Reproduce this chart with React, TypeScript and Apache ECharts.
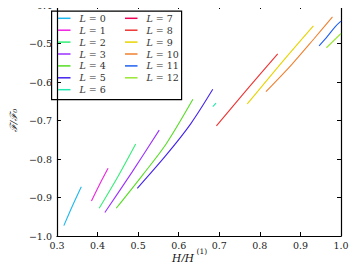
import React, { useEffect, useRef } from "react";
import * as echarts from "echarts";

const LABELS = ["L = 0", "L = 1", "L = 2", "L = 3", "L = 4", "L = 5", "L = 6", "L = 7", "L = 8", "L = 9", "L = 10", "L = 11", "L = 12"];
const COLORS = ["#1cb8f0", "#f020e0", "#33ee77", "#9b30ff", "#55dd22", "#4422ee", "#22e8b0", "#ee0055", "#ee3333", "#e8d400", "#f08030", "#2060f0", "#99e633"];

const L0 = [[0.317, -0.973], [0.338, -0.922], [0.36, -0.872]];
const L1 = [[0.385, -0.909], [0.405, -0.866], [0.426, -0.824]];
const L2 = [[0.404, -0.928], [0.45, -0.846], [0.494, -0.761]];
const L3 = [[0.418, -0.939], [0.485, -0.834], [0.552, -0.725]];
const L4 = [[0.446, -0.928], [0.51, -0.843], [0.569, -0.761], [0.635, -0.645]];
const L5 = [[0.498, -0.876], [0.569, -0.79], [0.63, -0.708], [0.684, -0.619]];
const L6 = [[0.684, -0.664], [0.692, -0.655]];
const L7: number[][] = [];
const L8 = [[0.693, -0.714], [0.767, -0.621], [0.844, -0.527]];
const L9 = [[0.769, -0.657], [0.859, -0.543], [0.932, -0.454]];
const L10 = [[0.815, -0.625], [0.879, -0.554], [0.934, -0.487], [0.979, -0.431]];
const L11 = [[0.946, -0.506], [0.966, -0.482], [0.986, -0.456], [1.0, -0.442]];
const L12 = [[0.964, -0.511], [1.0, -0.474]];
const SERIES_DATA = [L0, L1, L2, L3, L4, L5, L6, L7, L8, L9, L10, L11, L12];

const X_MIN = 0.3, X_MAX = 1.0, Y_MIN = -1.0, Y_MAX = -0.4, STEP = 0.1;

const FONT = "'DejaVu Serif', 'Liberation Serif', serif";
const fmt = (v: number) => v.toFixed(1).replace("-", "\u2212");

export default function App() {
  const ref = useRef<HTMLDivElement>(null);
  useEffect(() => {
    if (!ref.current) return;
    const chart = echarts.init(ref.current, undefined, { renderer: "svg" });
    const tick = { show: true, inside: true, length: 4, lineStyle: { color: "#000", width: 1 } };
    const line = { show: true, onZero: false, lineStyle: { color: "#000", width: 1.2 } };
    const legendCommon = {
      orient: "vertical" as const,
      icon: "rect",
      itemWidth: 12.5,
      itemHeight: 1.5,
      itemGap: 0.9,
      padding: 0,
      textStyle: {
        fontFamily: FONT,
        fontSize: 9.5,
        color: "#333",
        lineHeight: 11,
        padding: [0, 0, 0, 4],
        rich: { i: { fontStyle: "italic", fontFamily: FONT, fontSize: 9.5, color: "#333" } },
      },
      formatter: (name: string) => `{i|L} = ${name.split("= ")[1]}`,
    };
    const t = (text: string, x: number, y: number, font: string) => ({
      type: "text", x, y,
      style: { text, font, fill: "#111", verticalAlign: "middle", align: "left" },
    });
    chart.setOption({
      animation: false,
      backgroundColor: "#fff",
      grid: { left: 47, right: 19, top: 5, bottom: 34 },
      xAxis: [
        {
          type: "value", min: X_MIN, max: X_MAX, interval: STEP, position: "bottom",
          axisLine: line, axisTick: tick, splitLine: { show: false },
          axisLabel: { formatter: fmt, fontFamily: FONT, fontSize: 9.5, color: "#222", margin: 4 },
        },
        {
          type: "value", min: X_MIN, max: X_MAX, interval: STEP, position: "top",
          axisLine: line, axisTick: tick, splitLine: { show: false }, axisLabel: { show: false },
        },
      ],
      yAxis: [
        {
          type: "value", min: Y_MIN, max: Y_MAX, interval: STEP, position: "left",
          axisLine: line, axisTick: tick, splitLine: { show: false },
          axisLabel: { formatter: fmt, fontFamily: FONT, fontSize: 9.5, color: "#222", margin: 5 },
          name: "\u2131/\u2131\u2080", nameLocation: "middle", nameGap: 35, nameRotate: 90,
          nameTextStyle: { fontFamily: FONT, fontSize: 10, color: "#222", fontStyle: "italic" },
        },
        {
          type: "value", min: Y_MIN, max: Y_MAX, interval: STEP, position: "right",
          axisLine: line, axisTick: tick, splitLine: { show: false }, axisLabel: { show: false },
        },
      ],
      legend: [
        { ...legendCommon, left: 58, top: 12.8, data: LABELS.slice(0, 7) },
        { ...legendCommon, left: 125, top: 12.8, data: LABELS.slice(7) },
      ],
      graphic: [
        {
          type: "rect", left: 51, top: 10.5, z: -1,
          shape: { width: 130, height: 88.5 },
          style: { fill: "#fff", stroke: "#000", lineWidth: 1.2 },
        },
        {
          type: "group", x: 0, y: 0,
          children: [
            t("H/H", 172, 257.5, `italic 10.5px ${FONT}`),
            t("(1)", 196.5, 251, `7.5px ${FONT}`),
            t("c", 197, 263, `italic 7.5px ${FONT}`),
            t("2", 201.5, 265.5, `5.5px ${FONT}`),
          ],
        },
      ],
      series: SERIES_DATA.map((d, i) => ({
        name: LABELS[i],
        type: "line",
        data: d,
        showSymbol: false,
        smooth: 0.3,
        color: COLORS[i],
        lineStyle: { width: 1.1, color: COLORS[i] },
        z: 2,
      })),
    });
    return () => chart.dispose();
  }, []);
  return <div ref={ref} style={{ width: 360, height: 270, margin: -8 }} />;
}
